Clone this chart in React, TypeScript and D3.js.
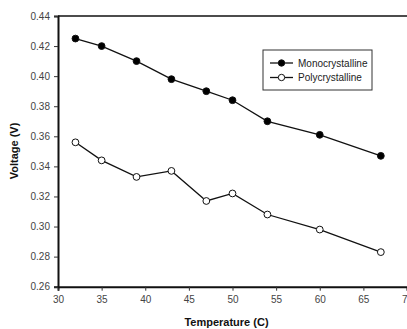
import React, { useRef, useEffect } from "react";
import * as d3 from "d3";

// temperatures (C)
const temps = [32, 35, 39, 43, 47, 50, 54, 60, 67];
// voltage readings (V)
const mono = [0.425, 0.42, 0.41, 0.398, 0.39, 0.384, 0.37, 0.361, 0.347];
const poly = [0.356, 0.344, 0.333, 0.337, 0.317, 0.322, 0.308, 0.298, 0.283];

const xTicks = [30, 35, 40, 45, 50, 55, 60, 65, 70];
const yTicks = [0.26, 0.28, 0.3, 0.32, 0.34, 0.36, 0.38, 0.4, 0.42, 0.44];

const seriesNames = ["Monocrystalline", "Polycrystalline"];

function App() {
  const svgRef = useRef<SVGSVGElement>(null);

  useEffect(() => {
    document.body.style.margin = "0";
    const width = 407;
    const height = 329;
    const margin = { top: 16, right: 0, bottom: 42, left: 58 };
    const font = "'Liberation Sans', Arial, sans-serif";

    const svg = d3.select(svgRef.current).attr("width", width).attr("height", height);
    svg.selectAll("*").remove();

    svg.append("rect").attr("width", width).attr("height", height).attr("fill", "#fff");

    const x = d3.scaleLinear().domain([30, 70]).range([margin.left, 407]);
    const y = d3.scaleLinear().domain([0.26, 0.44]).range([height - margin.bottom - 0.3, margin.top]);

    // top frame line
    svg.append("line")
      .attr("x1", margin.left).attr("x2", width)
      .attr("y1", y(0.44)).attr("y2", y(0.44))
      .attr("stroke", "#111").attr("stroke-width", 1.6);

    // axes
    const xAxis = svg.append("g")
      .attr("transform", `translate(0, ${y(0.26)})`)
      .call(d3.axisBottom(x).tickValues(xTicks).tickSize(4).tickPadding(5).tickFormat(d3.format("d")));
    const yAxis = svg.append("g")
      .attr("transform", `translate(${margin.left}, 0)`)
      .call(d3.axisLeft(y).tickValues(yTicks).tickSize(4).tickPadding(4).tickFormat(d3.format(".2f")));

    [xAxis, yAxis].forEach((g) => {
      g.select(".domain").attr("stroke", "#111").attr("stroke-width", 2);
      g.selectAll(".tick line").attr("stroke", "#333");
      g.selectAll(".tick text")
        .attr("fill", "#444")
        .style("font-family", font)
        .style("font-size", "10px");
    });

    // axis titles
    svg.append("text")
      .attr("x", (margin.left + width) / 2 - 6)
      .attr("y", 326)
      .attr("text-anchor", "middle")
      .style("font-family", font)
      .style("font-size", "11px")
      .style("font-weight", "bold")
      .attr("fill", "#111")
      .text("Temperature (C)");

    svg.append("text")
      .attr("transform", "rotate(-90)")
      .attr("x", -151)
      .attr("y", 18)
      .attr("text-anchor", "middle")
      .style("font-family", font)
      .style("font-size", "11px")
      .style("font-weight", "bold")
      .attr("fill", "#111")
      .text("Voltage (V)");

    const line = d3.line<number>()
      .x((d, i) => x(temps[i]))
      .y((d) => y(d));

    const series = [
      { values: mono, fill: "#000" },
      { values: poly, fill: "#fff" },
    ];

    series.forEach((s) => {
      svg.append("path")
        .datum(s.values)
        .attr("d", line)
        .attr("fill", "none")
        .attr("stroke", "#111")
        .attr("stroke-width", 1.3);

      svg.append("g")
        .selectAll("circle")
        .data(s.values)
        .enter()
        .append("circle")
        .attr("cx", (d, i) => x(temps[i]))
        .attr("cy", (d) => y(d))
        .attr("r", 3.4)
        .attr("fill", s.fill)
        .attr("stroke", "#111")
        .attr("stroke-width", 1);
    });

    // legend
    const legend = svg.append("g").attr("transform", "translate(263, 50)");
    legend.append("rect")
      .attr("width", 109)
      .attr("height", 40)
      .attr("fill", "#fff")
      .attr("stroke", "#333")
      .attr("stroke-width", 1);

    seriesNames.forEach((name, i) => {
      const ly = 13 + i * 14.5;
      legend.append("line")
        .attr("x1", 7).attr("x2", 30)
        .attr("y1", ly).attr("y2", ly)
        .attr("stroke", "#111").attr("stroke-width", 1.3);
      legend.append("circle")
        .attr("cx", 18.5).attr("cy", ly).attr("r", 3.2)
        .attr("fill", series[i].fill)
        .attr("stroke", "#111").attr("stroke-width", 1);
      legend.append("text")
        .attr("x", 35)
        .attr("y", ly + 3.5)
        .style("font-family", font)
        .style("font-size", "10px")
        .attr("fill", "#222")
        .text(name);
    });
  }, []);

  return <svg ref={svgRef}></svg>;
}

export default App;
